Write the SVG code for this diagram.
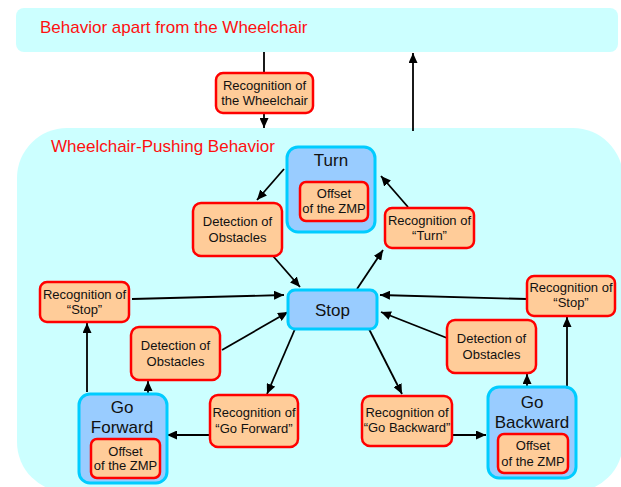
<svg xmlns="http://www.w3.org/2000/svg" width="621" height="487" viewBox="0 0 621 487">
<defs>
<marker id="ah" markerUnits="userSpaceOnUse" markerWidth="11" markerHeight="9" refX="10" refY="4.5" orient="auto"><path d="M0,0 L10,4.5 L0,9 z" fill="#000"/></marker>
<style>
.region{fill:#ccffff;stroke:none}
.rlabel{font-family:"Liberation Sans",Arial,sans-serif;font-size:17px;fill:#ff1010}
.rec{fill:#ffcc99;stroke:#ff0000;stroke-width:2.5}
.state{fill:#99ccff;stroke:#00ccff;stroke-width:3}
.t{font-family:"Liberation Sans",Arial,sans-serif;font-size:13px;fill:#111;text-anchor:middle}
.ts{font-family:"Liberation Sans",Arial,sans-serif;font-size:17px;fill:#111;text-anchor:middle}
.c{fill:none;stroke:#000;stroke-width:1.8}
.a{fill:none;stroke:#000;stroke-width:1.8;marker-end:url(#ah)}
</style>
</defs>
<rect width="621" height="487" fill="#fff"/>
<g id="outer-behavior">
<rect class="region" x="16" y="8" width="602" height="44" rx="8"/>
<text class="rlabel" x="40" y="33">Behavior apart from the Wheelchair</text>
</g>
<g id="pushing-behavior">
<rect class="region" x="17" y="128" width="606" height="364" rx="50"/>
<text class="rlabel" x="51" y="152">Wheelchair-Pushing Behavior</text>
</g>
<g id="connectors">
<line class="c" x1="264" y1="52" x2="264" y2="73"/>
<line class="a" x1="264" y1="113" x2="264" y2="128"/>
<line class="a" x1="413" y1="131" x2="413" y2="53"/>
<line class="a" x1="284" y1="169" x2="257" y2="200"/>
<line class="a" x1="273" y1="256" x2="300" y2="287"/>
<line class="a" x1="357" y1="289" x2="383" y2="250"/>
<line class="a" x1="408" y1="207" x2="381" y2="176"/>
<line class="a" x1="132" y1="299" x2="284" y2="295"/>
<line class="a" x1="527" y1="299" x2="380" y2="295"/>
<line class="a" x1="447" y1="338" x2="381" y2="312"/>
<line class="a" x1="369" y1="329" x2="402" y2="394"/>
<line class="a" x1="453" y1="435" x2="486" y2="435"/>
<line class="a" x1="527" y1="386" x2="527" y2="374"/>
<line class="a" x1="567" y1="386" x2="567" y2="317"/>
<line class="a" x1="222" y1="350" x2="288" y2="312"/>
<line class="a" x1="295" y1="329" x2="267" y2="394"/>
<line class="a" x1="210" y1="435" x2="167" y2="435"/>
<line class="a" x1="148" y1="394" x2="148" y2="381"/>
<line class="a" x1="87" y1="392" x2="87" y2="323"/>
</g>
<g id="rec-wheelchair">
<rect class="rec" x="216" y="73" width="97" height="40" rx="7"/>
<text class="t" x="264.5" y="90">Recognition of</text>
<text class="t" x="264.5" y="105">the Wheelchair</text>
</g>
<g id="turn">
<rect class="state" x="287" y="147" width="88" height="85" rx="11"/>
<text class="ts" x="331" y="166">Turn</text>
<rect class="rec" x="300" y="182" width="68" height="39" rx="6"/>
<text class="t" x="334" y="198">Offset</text>
<text class="t" x="334" y="213">of the ZMP</text>
</g>
<g id="det-upper">
<rect class="rec" x="193" y="203" width="89" height="53" rx="8"/>
<text class="t" x="237.5" y="226">Detection of</text>
<text class="t" x="237.5" y="242">Obstacles</text>
</g>
<g id="rec-turn">
<rect class="rec" x="385" y="208" width="89" height="40" rx="7"/>
<text class="t" x="429.5" y="225">Recognition of</text>
<text class="t" x="429.5" y="240">“Turn”</text>
</g>
<g id="rec-stop-left">
<rect class="rec" x="40" y="282" width="89" height="40" rx="7"/>
<text class="t" x="84.5" y="299">Recognition of</text>
<text class="t" x="84.5" y="314">“Stop”</text>
</g>
<g id="stop">
<rect class="state" x="288" y="290" width="89" height="39" rx="7"/>
<text class="ts" x="332.5" y="316">Stop</text>
</g>
<g id="rec-stop-right">
<rect class="rec" x="527" y="276" width="88" height="40" rx="7"/>
<text class="t" x="571" y="292">Recognition of</text>
<text class="t" x="571" y="307">“Stop”</text>
</g>
<g id="det-left">
<rect class="rec" x="131" y="327" width="89" height="53" rx="8"/>
<text class="t" x="175.5" y="350">Detection of</text>
<text class="t" x="175.5" y="366">Obstacles</text>
</g>
<g id="det-right">
<rect class="rec" x="447" y="320" width="89" height="53" rx="8"/>
<text class="t" x="491.5" y="343">Detection of</text>
<text class="t" x="491.5" y="359">Obstacles</text>
</g>
<g id="go-forward">
<rect class="state" x="79" y="394" width="88" height="89" rx="11"/>
<text class="ts" x="122" y="413">Go</text>
<text class="ts" x="122" y="433">Forward</text>
<rect class="rec" x="91" y="439" width="69" height="39" rx="6"/>
<text class="t" x="125.5" y="456">Offset</text>
<text class="t" x="125.5" y="470">of the ZMP</text>
</g>
<g id="rec-go-forward">
<rect class="rec" x="210" y="395" width="88" height="52" rx="8"/>
<text class="t" x="254" y="417">Recognition of</text>
<text class="t" x="254" y="433">“Go Forward”</text>
</g>
<g id="rec-go-backward">
<rect class="rec" x="362" y="396" width="90" height="50" rx="8"/>
<text class="t" x="407" y="417">Recognition of</text>
<text class="t" x="407" y="432">“Go Backward”</text>
</g>
<g id="go-backward">
<rect class="state" x="488" y="387" width="88" height="91" rx="11"/>
<text class="ts" x="532" y="408">Go</text>
<text class="ts" x="532" y="428">Backward</text>
<rect class="rec" x="498" y="434" width="70" height="39" rx="6"/>
<text class="t" x="533" y="450">Offset</text>
<text class="t" x="533" y="466">of the ZMP</text>
</g>
</svg>
